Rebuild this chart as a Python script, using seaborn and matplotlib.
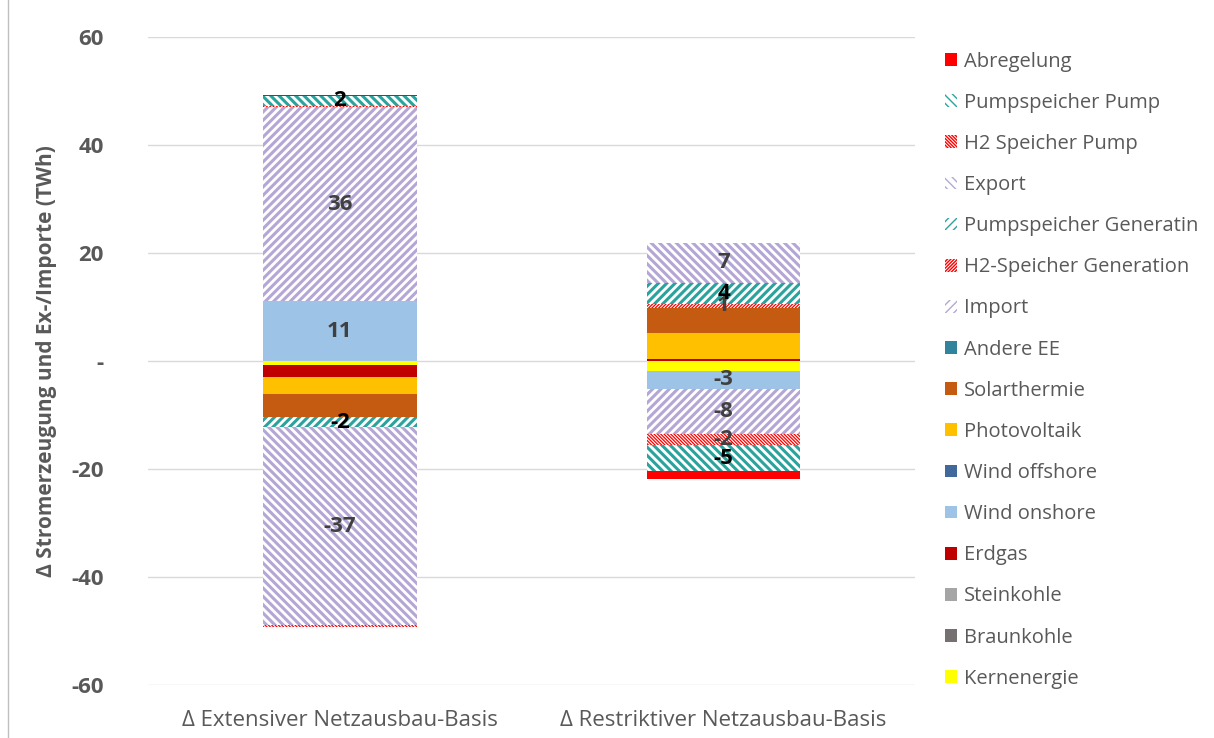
import matplotlib
matplotlib.use("Agg")
import matplotlib.pyplot as plt
import seaborn as sns
import numpy as np
import pandas as pd
from matplotlib.patches import Patch
from matplotlib.lines import Line2D
from matplotlib.ticker import FuncFormatter

# Data (TWh), series in stacking order
categories = ["Δ Extensiver Netzausbau-Basis", "Δ Restriktiver Netzausbau-Basis"]
series = ["Kernenergie", "Braunkohle", "Steinkohle", "Erdgas", "Wind onshore", "Wind offshore",
          "Photovoltaik", "Solarthermie", "Andere EE", "Import", "H2-Speicher Generation",
          "Pumpspeicher Generatin", "Export", "H2 Speicher Pump", "Pumpspeicher Pump", "Abregelung"]
extensiv = [-0.7, 0, 0, -2.3, 11.1, 0, -3.2, -4.1, 0, 35.9, 0.3, -2.0, -36.6, -0.3, 1.7, 0.3]
restriktiv = [-1.8, 0, 0, 0.4, -3.4, 0, 4.7, 4.8, 0, -8.4, 0.6, 4.0, 7.4, -2.0, -4.8, -1.4]

# Styles
colors = {"Kernenergie": "#FFFF00", "Braunkohle": "#767171", "Steinkohle": "#A5A5A5",
          "Erdgas": "#C00000", "Wind onshore": "#9DC3E6", "Wind offshore": "#41699C",
          "Photovoltaik": "#FFC000", "Solarthermie": "#C55A11", "Andere EE": "#31849B",
          "Import": "#B4A7D6", "H2-Speicher Generation": "#FF0000",
          "Pumpspeicher Generatin": "#2BA39D", "Export": "#B4A7D6",
          "H2 Speicher Pump": "#FF0000", "Pumpspeicher Pump": "#2BA39D", "Abregelung": "#FF0000"}
hatches = {"Import": "////", "Export": "\\\\\\\\", "Pumpspeicher Generatin": "////",
           "Pumpspeicher Pump": "\\\\\\\\", "H2-Speicher Generation": "//////////",
           "H2 Speicher Pump": "\\\\\\\\\\\\\\\\\\\\"}
hatch_lw = {"H2-Speicher Generation": 0.9, "H2 Speicher Pump": 0.9}
labelled = ["Wind onshore", "Import", "H2-Speicher Generation", "Pumpspeicher Generatin",
            "Export", "H2 Speicher Pump", "Pumpspeicher Pump"]

sns.set_style("white")
plt.rcParams["font.family"] = ["Open Sans", "DejaVu Sans"]

fig, ax = plt.subplots(figsize=(12.14, 7.38), dpi=100)
fig.subplots_adjust(left=0.122, right=0.754, bottom=0.0718, top=0.9499)

pos_base = np.zeros(2)
neg_base = np.zeros(2)
for name, v1, v2 in zip(series, extensiv, restriktiv):
    vals = np.array([v1, v2], dtype=float)
    bottom = np.where(vals >= 0, pos_base, neg_base)
    df = pd.DataFrame({"Szenario": categories, "Wert": vals})
    c = colors[name]
    if name in hatches:
        kws = dict(facecolor="white", edgecolor=c, hatch=hatches[name], linewidth=0)
    else:
        kws = dict(linewidth=0)
    with plt.rc_context({"hatch.linewidth": hatch_lw.get(name, 2.2)}):
        sns.barplot(data=df, x="Szenario", y="Wert", order=categories, color=c, saturation=1,
                    width=0.4, errorbar=None, bottom=bottom, ax=ax, **kws)
    if name in labelled:
        for i, v in enumerate(vals):
            if abs(v) >= 0.5:
                txt_color = "black" if name.startswith("Pumpspeicher") else "#404040"
                ax.text(i, bottom[i] + v / 2, f"{v:.0f}", ha="center", va="center",
                        fontsize=16, fontweight="bold", color=txt_color)
    pos_base = pos_base + np.where(vals >= 0, vals, 0)
    neg_base = neg_base + np.where(vals < 0, vals, 0)

ax.set_ylim(-60, 60)
ax.set_xlim(-0.5, 1.5)
ax.set_yticks(range(-60, 61, 20))
ax.yaxis.set_major_formatter(FuncFormatter(lambda v, p: "-" if v == 0 else f"{v:.0f}"))
ax.yaxis.grid(True, color="#D9D9D9", linewidth=1)
ax.xaxis.grid(False)
ax.set_axisbelow(True)
sns.despine(ax=ax, left=True, bottom=True)
ax.tick_params(axis="y", length=0, pad=32, labelsize=16, labelcolor="#595959")
ax.tick_params(axis="x", length=0, pad=18, labelsize=16, labelcolor="#595959")
for lbl in ax.get_yticklabels():
    lbl.set_fontweight("bold")
ax.set_xlabel("")
ax.set_ylabel("Δ Stromerzeugung und Ex-/Importe (TWh)", fontsize=15, fontweight="bold",
              color="#595959", labelpad=10)

# Legend (reverse order as in the original)
handles = []
for name in series[::-1]:
    c = colors[name]
    if name in hatches:
        handles.append(Patch(facecolor="white", edgecolor=c, hatch=hatches[name], linewidth=0, label=name))
    else:
        handles.append(Patch(facecolor=c, linewidth=0, label=name))
fig.legend(handles=handles, loc="upper left", bbox_to_anchor=(0.772, 0.941), frameon=False,
           fontsize=14.5, handlelength=0.6, handleheight=0.6, handletextpad=0.35,
           labelspacing=1.05, labelcolor="#595959", borderaxespad=0)

# chart border on the left
fig.add_artist(Line2D([8 / 1214, 8 / 1214], [0, 1], color="#BFBFBF", linewidth=1))

fig.savefig("out.png", dpi=100)
